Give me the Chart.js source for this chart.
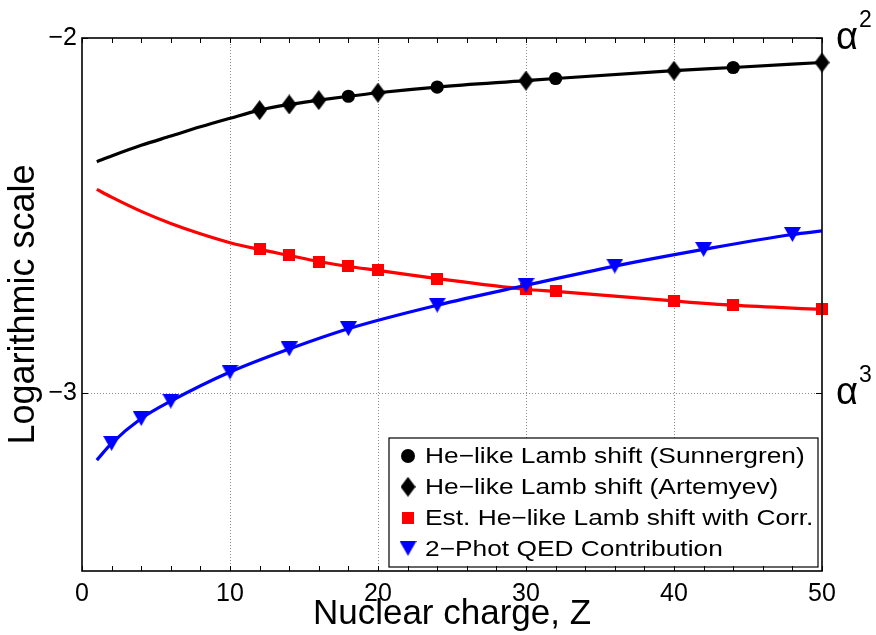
<!DOCTYPE html>
<html>
<head>
<meta charset="utf-8">
<script src="https://cdn.jsdelivr.net/npm/chart.js@4.4.0/dist/chart.umd.min.js"></script>
<style>
  html, body { margin: 0; padding: 0; background: #fff; }
  #contenedor { width: 876px; height: 635px; }
</style>
</head>
<body>
<div id="contenedor"><canvas id="grafico" width="876" height="635"></canvas></div>
<script>
// Curvas de ajuste (linea continua)
const zAjusteNegro = [1, 2, 4, 6, 8, 10, 12, 14, 16, 18, 20, 24, 30, 32, 40, 44, 50];
const yAjusteNegro = [-2.348, -2.332, -2.302, -2.276, -2.250, -2.226, -2.203, -2.187, -2.175, -2.164, -2.154, -2.138, -2.120, -2.114, -2.092, -2.083, -2.069];
const zAjusteRojo = [1, 2, 4, 6, 8, 10, 12, 14, 16, 18, 20, 24, 30, 32, 40, 44, 50];
const yAjusteRojo = [-2.426, -2.448, -2.488, -2.522, -2.551, -2.576, -2.595, -2.612, -2.629, -2.643, -2.654, -2.677, -2.707, -2.713, -2.740, -2.752, -2.764];
const zAjusteAzul = [1, 2, 4, 6, 10, 14, 18, 24, 30, 36, 42, 48, 50];
const yAjusteAzul = [-3.188, -3.141, -3.071, -3.022, -2.940, -2.875, -2.818, -2.752, -2.696, -2.642, -2.595, -2.553, -2.543];

// Puntos con marcador
const zSunnergren = [18, 24, 32, 44];
const ySunnergren = [-2.164, -2.138, -2.114, -2.083];
const zArtemyev = [12, 14, 16, 20, 30, 40, 50];
const yArtemyev = [-2.203, -2.187, -2.175, -2.154, -2.120, -2.092, -2.069];
const zEstimado = [12, 14, 16, 18, 20, 24, 30, 32, 40, 44, 50];
const yEstimado = [-2.595, -2.612, -2.629, -2.643, -2.654, -2.677, -2.707, -2.713, -2.740, -2.752, -2.764];
const zDosFotones = [2, 4, 6, 10, 14, 18, 24, 30, 36, 42, 48];
const yDosFotones = [-3.141, -3.071, -3.022, -2.940, -2.875, -2.818, -2.752, -2.696, -2.642, -2.595, -2.553];

const ticksY = [-3, -2];
const etiquetasDerecha = [{ valor: -2, exp: '2' }, { valor: -3, exp: '3' }];
const nombresSeries = [
    'He\u2212like Lamb shift (Sunnergren)',
    'He\u2212like Lamb shift (Artemyev)',
    'Est. He\u2212like Lamb shift with Corr.',
    '2\u2212Phot QED Contribution'
];

function puntos(xs, ys) {
    return xs.map((x, i) => ({ x: x, y: ys[i] }));
}

function crearMarcador(tipo, w, h, color) {
    const c = document.createElement('canvas');
    c.width = w; c.height = h;
    const g = c.getContext('2d');
    g.fillStyle = color;
    g.beginPath();
    if (tipo === 'diamante') {
        g.moveTo(w / 2, 0); g.lineTo(w, h / 2); g.lineTo(w / 2, h); g.lineTo(0, h / 2);
    } else if (tipo === 'trianguloAbajo') {
        g.moveTo(0, 0); g.lineTo(w, 0); g.lineTo(w / 2, h);
    } else {
        g.rect(0, 0, w, h);
    }
    g.closePath();
    g.fill();
    return c;
}

const marcaDiamante = crearMarcador('diamante', 15, 20, '#000');
const marcaCuadrado = crearMarcador('cuadrado', 12, 12, '#ff0000');
const marcaTriangulo = crearMarcador('trianguloAbajo', 17, 15, '#0000ff');

const fuente = '"Liberation Sans", Arial, Helvetica, sans-serif';

function lineaAjuste(xs, ys, color, orden) {
    return {
        label: '', data: puntos(xs, ys), borderColor: color, borderWidth: 3.2,
        pointRadius: 0, cubicInterpolationMode: 'monotone', fill: false, order: orden
    };
}

function serieMarcas(nombre, xs, ys, estilo, orden, extra) {
    return Object.assign({
        label: nombre, data: puntos(xs, ys), showLine: false, pointStyle: estilo,
        pointRadius: 7, borderWidth: 0, clip: false, order: orden
    }, extra || {});
}

const datasets = [
    serieMarcas(nombresSeries[3], zDosFotones, yDosFotones, marcaTriangulo, 0),
    lineaAjuste(zAjusteAzul, yAjusteAzul, '#0000ff', 1),
    serieMarcas(nombresSeries[2], zEstimado, yEstimado, marcaCuadrado, 2),
    lineaAjuste(zAjusteRojo, yAjusteRojo, '#ff0000', 3),
    serieMarcas(nombresSeries[1], zArtemyev, yArtemyev, marcaDiamante, 4),
    serieMarcas(nombresSeries[0], zSunnergren, ySunnergren, 'circle', 5,
        { pointRadius: 6.6, backgroundColor: '#000', borderColor: '#000' }),
    lineaAjuste(zAjusteNegro, yAjusteNegro, '#000000', 6)
];

// leyenda, marco, marcas interiores y etiquetas alfa
const extras = {
    id: 'extras',
    afterDraw(chart) {
        const { ctx, chartArea: a, scales } = chart;
        ctx.save();

        // leyenda dentro del area
        const caja = { x: 389, y: 438, w: 429, h: 129 };
        ctx.fillStyle = '#fff';
        ctx.fillRect(caja.x, caja.y, caja.w, caja.h);
        ctx.strokeStyle = '#000';
        ctx.lineWidth = 1.2;
        ctx.strokeRect(caja.x, caja.y, caja.w, caja.h);
        const filas = [
            { nombre: nombresSeries[0], marca: 'circle' },
            { nombre: nombresSeries[1], marca: marcaDiamante },
            { nombre: nombresSeries[2], marca: marcaCuadrado },
            { nombre: nombresSeries[3], marca: marcaTriangulo }
        ];
        filas.forEach((f, i) => {
            const yy = caja.y + 18 + i * 30.8;
            if (f.marca === 'circle') {
                ctx.fillStyle = '#000';
                ctx.beginPath();
                ctx.arc(408, yy, 7, 0, Math.PI * 2);
                ctx.fill();
            } else {
                ctx.drawImage(f.marca, 408 - f.marca.width / 2, yy - f.marca.height / 2);
            }
            ctx.save();
            ctx.translate(425, yy + 1);
            ctx.scale(1.17, 1);
            ctx.fillStyle = '#000';
            ctx.font = '22.5px ' + fuente;
            ctx.textBaseline = 'middle';
            ctx.fillText(f.nombre, 0, 0);
            ctx.restore();
        });

        // marco
        ctx.strokeStyle = '#000';
        ctx.lineWidth = 1.6;
        ctx.strokeRect(a.left, a.top, a.right - a.left, a.bottom - a.top);

        // marcas hacia dentro
        ctx.lineWidth = 1;
        ctx.beginPath();
        scales.x.ticks.forEach(t => {
            const px = Math.round(scales.x.getPixelForValue(t.value)) + 0.5;
            ctx.moveTo(px, a.bottom); ctx.lineTo(px, a.bottom - 5);
            ctx.moveTo(px, a.top); ctx.lineTo(px, a.top + 5);
        });
        scales.y.ticks.forEach(t => {
            const py = Math.round(scales.y.getPixelForValue(t.value)) + 0.5;
            ctx.moveTo(a.left, py); ctx.lineTo(a.left + 6, py);
            ctx.moveTo(a.right, py); ctx.lineTo(a.right - 6, py);
        });
        ctx.stroke();

        // alfa^n a la derecha
        ctx.fillStyle = '#000';
        ctx.textBaseline = 'alphabetic';
        etiquetasDerecha.forEach(e => {
            const py = scales.y.getPixelForValue(e.valor);
            ctx.font = '38px ' + fuente;
            ctx.fillText('\u03b1', 836, py + 11);
            ctx.font = '23px ' + fuente;
            ctx.fillText(e.exp, 859, py - 11);
        });
        ctx.restore();
    }
};

new Chart(document.getElementById('grafico').getContext('2d'), {
    type: 'line',
    data: { datasets: datasets },
    options: {
        responsive: false,
        animation: false,
        events: [],
        layout: { padding: { top: 38, right: 54, left: 0, bottom: 0 } },
        plugins: { legend: { display: false }, tooltip: { enabled: false } },
        scales: {
            x: {
                type: 'linear', min: 0, max: 50,
                afterFit(scale) { scale.height = 64; },
                ticks: {
                    stepSize: 2, autoSkip: false, maxRotation: 0, padding: 8,
                    color: '#000', font: { family: fuente, size: 25 },
                    callback: v => (v % 10 === 0 ? String(v) : '')
                },
                grid: {
                    drawTicks: false, lineWidth: 1,
                    color: c => (c.tick && c.tick.value % 10 === 0 && c.tick.value > 0 && c.tick.value < 50) ? '#8c8c8c' : 'rgba(0,0,0,0)'
                },
                border: { display: false, dash: [1, 2] },
                title: {
                    display: true, text: 'Nuclear charge, Z', color: '#000',
                    font: { family: fuente, size: 35 }, padding: { top: 0, bottom: 0 }
                }
            },
            y: {
                type: 'linear', min: -3.5, max: -2,
                afterFit(scale) { scale.width = 82; },
                afterBuildTicks(scale) { scale.ticks = ticksY.map(v => ({ value: v })); },
                ticks: {
                    padding: 5, color: '#000', font: { family: fuente, size: 25 },
                    callback: v => (v < 0 ? '\u2212' + Math.abs(v) : String(v))
                },
                grid: {
                    drawTicks: false, lineWidth: 1,
                    color: c => (c.tick && c.tick.value === -3) ? '#8c8c8c' : 'rgba(0,0,0,0)'
                },
                border: { display: false, dash: [1, 2] },
                title: {
                    display: true, text: 'Logarithmic scale', color: '#000',
                    font: { family: fuente, size: 36 }, padding: { top: 2, bottom: 0 }
                }
            }
        }
    },
    plugins: [extras]
});
</script>
</body>
</html>
